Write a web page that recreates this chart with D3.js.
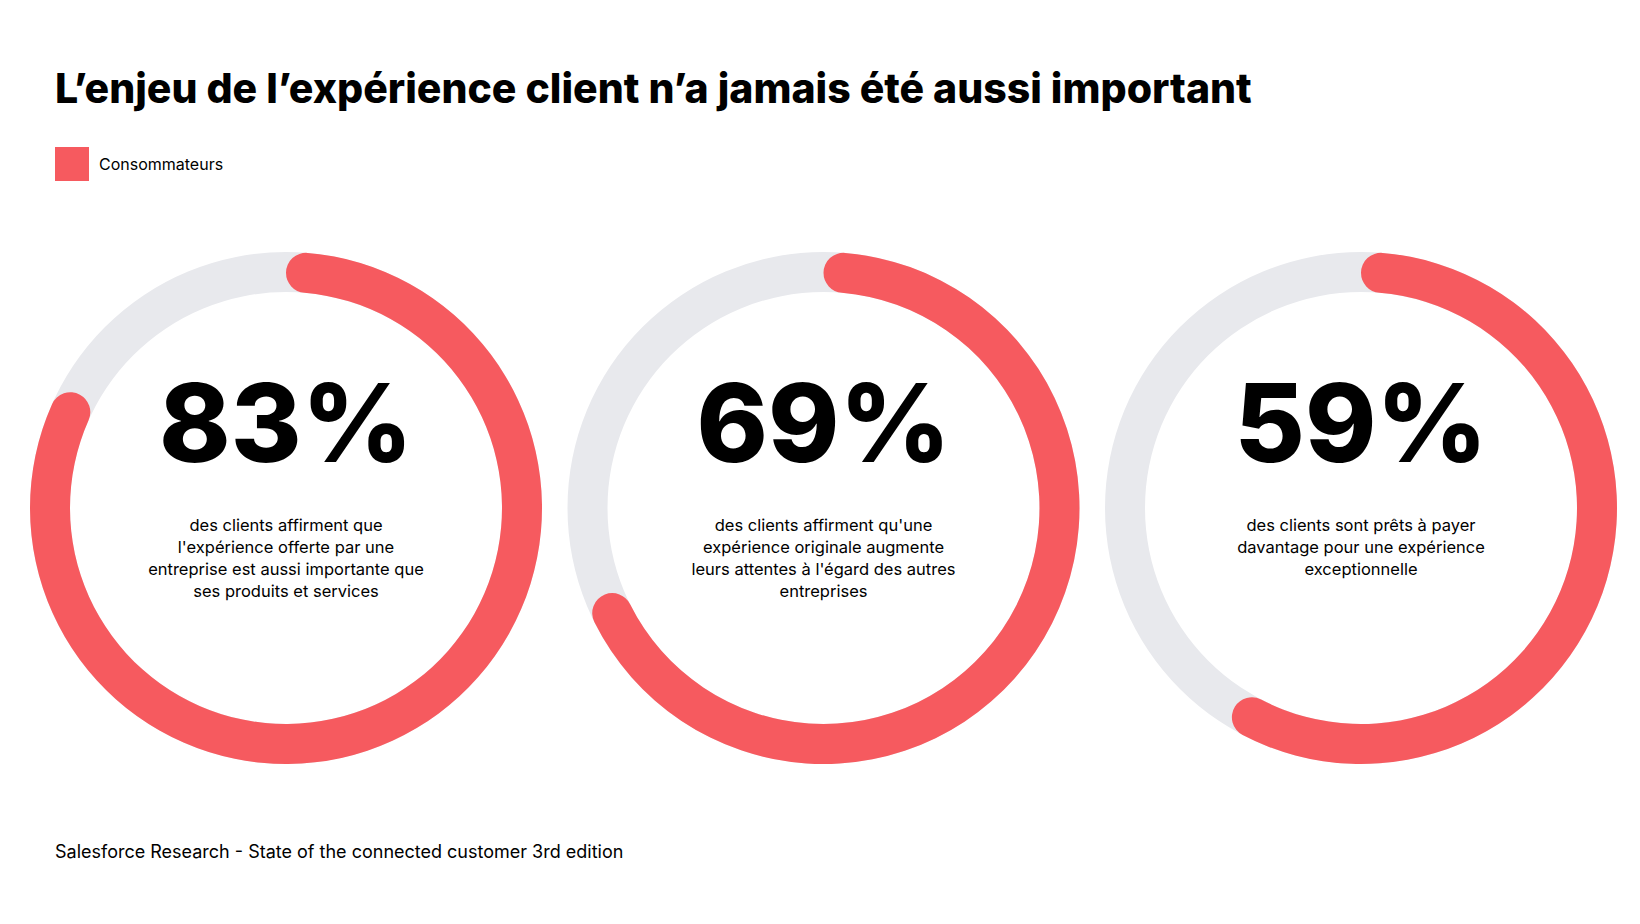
<!DOCTYPE html>
<html><head><meta charset="utf-8">
<script src="https://cdn.jsdelivr.net/npm/d3@7"></script>
<style>body{margin:0;background:#fff}svg{font-family:Inter,"Open Sans",sans-serif}</style>
</head><body><svg id="chart" width="1640" height="924"></svg>
<script>
const values = [83, 69, 59];
const labels = ["83%", "69%", "59%"];
const descriptions = [
  ["des clients affirment que", "l'expérience offerte par une", "entreprise est aussi importante que", "ses produits et services"],
  ["des clients affirment qu'une", "expérience originale augmente", "leurs attentes à l'égard des autres", "entreprises"],
  ["des clients sont prêts à payer", "davantage pour une expérience", "exceptionnelle"]
];
const red = "#f65a5f", grey = "#e8e9ed";

const svg = d3.select("#chart");
svg.append("text").attr("x", 55).attr("y", 103).attr("font-size", 41).attr("font-weight", 800)
  .attr("fill", "#000").text("L’enjeu de l’expérience client n’a jamais été aussi important");
svg.append("rect").attr("x", 55).attr("y", 147).attr("width", 34).attr("height", 34).attr("fill", red);
svg.append("text").attr("x", 99).attr("y", 170).attr("font-size", 16).text("Consommateurs");
svg.append("text").attr("x", 55).attr("y", 858).attr("font-size", 18)
  .text("Salesforce Research - State of the connected customer 3rd edition");

const x = d3.scalePoint().domain(d3.range(values.length)).range([286, 1361]);
const angle = d3.scaleLinear().domain([0, 100]).range([0, 2 * Math.PI]);
const cy = 508;
const ring = d3.arc().innerRadius(216).outerRadius(256).startAngle(0);
const prog = d3.arc().innerRadius(216).outerRadius(256).startAngle(0).cornerRadius(20);

values.forEach((v, i) => {
  const g = svg.append("g").attr("transform", `translate(${x(i)},${cy})`);
  g.append("path").attr("d", ring({ endAngle: 2 * Math.PI })).attr("fill", grey);
  g.append("path").attr("d", prog({ endAngle: angle(v) })).attr("fill", red);
  g.append("text").attr("text-anchor", "middle").attr("y", -46).attr("font-size", 108)
    .attr("font-weight", 800).text(labels[i]);
  descriptions[i].forEach((line, j) => {
    g.append("text").attr("text-anchor", "middle").attr("y", 23 + j * 22)
      .attr("font-size", 16.5).text(line);
  });
});
</script></body></html>
